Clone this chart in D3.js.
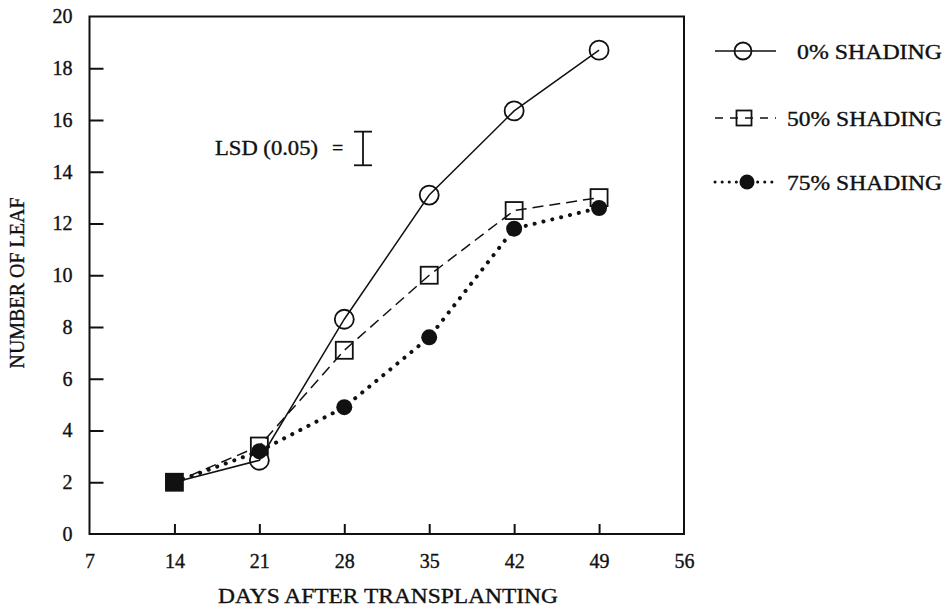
<!DOCTYPE html>
<html>
<head>
<meta charset="utf-8">
<script src="https://cdn.jsdelivr.net/npm/d3@7"></script>
<style>
  body { margin: 0; background: #fff; }
  svg { display: block; }
  text { font-family: "Liberation Serif", "Times New Roman", serif; fill: #111; stroke: #111; stroke-width: 0.35px; }
</style>
</head>
<body>
<svg id="chart" width="948" height="616"></svg>
<script>
// data
var days = [14, 21, 28, 35, 42, 49];
var shade0 = [2.0, 2.85, 8.3, 13.1, 16.35, 18.7];
var shade50 = [2.0, 3.4, 7.1, 10.0, 12.5, 13.0];
var shade75 = [2.0, 3.2, 4.9, 7.6, 11.8, 12.6];
var seriesNames = ["0% SHADING", "50% SHADING", "75% SHADING"];
var xTicks = [7, 14, 21, 28, 35, 42, 49, 56];
var yTicks = [0, 2, 4, 6, 8, 10, 12, 14, 16, 18, 20];
var lsdValue = 1.3;   // LSD (0.05) bar length
var lsdCenter = 14.9;

var svg = d3.select("#chart");
var ink = "#111";

var x = d3.scaleLinear().domain([7, 56]).range([89.5, 684]);
var y = d3.scaleLinear().domain([0, 20]).range([534, 16.5]);

//axes with inward ticks, end ticks dropped
var yAxis = d3.axisLeft(y).tickValues(yTicks).tickSizeInner(-14).tickSizeOuter(0).tickPadding(17);
var xAxis = d3.axisBottom(x).tickValues(xTicks).tickSizeInner(-10).tickSizeOuter(0).tickPadding(20);

var gy = svg.append("g").attr("transform", "translate(" + x.range()[0] + ",0)").call(yAxis);
var gx = svg.append("g").attr("transform", "translate(0," + y.range()[0] + ")").call(xAxis);
[gx, gy].forEach(function(g) {
    g.select(".domain").remove();
    g.selectAll("line").attr("stroke", ink).attr("stroke-width", 2);
    g.selectAll("text").attr("fill", ink).style("font-size", "20px")
        .style("font-family", "'Liberation Serif', 'Times New Roman', serif");
});
gy.selectAll(".tick").filter(d => d === 0 || d === 20).select("line").remove();
gx.selectAll(".tick").filter(d => d === 7 || d === 56).select("line").remove();

//frame
svg.append("rect")
    .attr("x", x.range()[0]).attr("y", y.range()[1])
    .attr("width", x.range()[1] - x.range()[0])
    .attr("height", y.range()[0] - y.range()[1])
    .attr("fill", "none").attr("stroke", ink).attr("stroke-width", 2);

//axis titles
svg.append("text")
    .attr("x", 388).attr("y", 603)
    .attr("text-anchor", "middle")
    .attr("textLength", 340).attr("lengthAdjust", "spacingAndGlyphs")
    .style("font-size", "20px")
    .text("DAYS AFTER TRANSPLANTING");
svg.append("text")
    .attr("transform", "translate(24,283) rotate(-90)")
    .attr("text-anchor", "middle")
    .style("font-size", "20px")
    .text("NUMBER OF LEAF");

//lines
var line = d3.line().x((d, i) => x(days[i])).y(d => y(d));
var styles = [
    { data: shade0, dash: null, width: 1.5, cap: "butt" },
    { data: shade50, dash: "11,6", width: 1.5, cap: "butt" },
    { data: shade75, dash: "0.1,9", width: 4, cap: "round" }
];
styles.forEach(function(s) {
    svg.append("path")
        .attr("d", line(s.data))
        .attr("fill", "none")
        .attr("stroke", ink)
        .attr("stroke-width", s.width)
        .attr("stroke-linecap", s.cap)
        .attr("stroke-dasharray", s.dash);
});

//markers
function drawCircle(g, cx, cy, r) {
    g.append("circle").attr("cx", cx).attr("cy", cy).attr("r", r)
        .attr("fill", "none").attr("stroke", ink).attr("stroke-width", 1.8);
}
function drawSquare(g, cx, cy, s, filled) {
    g.append("rect").attr("x", cx - s / 2).attr("y", cy - s / 2)
        .attr("width", s).attr("height", s)
        .attr("fill", filled ? ink : "none").attr("stroke", ink).attr("stroke-width", 1.8);
}
function drawDot(g, cx, cy, r) {
    g.append("circle").attr("cx", cx).attr("cy", cy).attr("r", r).attr("fill", ink);
}
var marks = svg.append("g");
days.forEach(function(d, i) {
    if(i > 0) drawCircle(marks, x(d), y(shade0[i]), 9.5);
});
days.forEach(function(d, i) {
    drawSquare(marks, x(d), y(shade50[i]), 17, i === 0);
});
days.forEach(function(d, i) {
    if(i > 0) drawDot(marks, x(d), y(shade75[i]), 8);
});

//LSD bar
var lsdX = 363;
svg.append("text")
    .attr("x", 215).attr("y", 155)
    .attr("textLength", 103).attr("lengthAdjust", "spacingAndGlyphs")
    .style("font-size", "20px")
    .text("LSD (0.05)");
svg.append("text")
    .attr("x", 332).attr("y", 155)
    .style("font-size", "20px")
    .text("=");
var lsd = svg.append("g").attr("stroke", ink).attr("stroke-width", 1.8);
lsd.append("line").attr("x1", lsdX).attr("x2", lsdX)
    .attr("y1", y(lsdCenter + lsdValue / 2)).attr("y2", y(lsdCenter - lsdValue / 2));
[lsdCenter + lsdValue / 2, lsdCenter - lsdValue / 2].forEach(function(v) {
    lsd.append("line").attr("x1", lsdX - 9).attr("x2", lsdX + 9).attr("y1", y(v)).attr("y2", y(v));
});

//legend
var legY = [51, 118, 182];
var legText = [{ x: 797, w: 145 }, { x: 787, w: 155 }, { x: 787, w: 155 }];
var leg = svg.append("g");
seriesNames.forEach(function(name, i) {
    var s = styles[i];
    var ly = legY[i];
    leg.append("line")
        .attr("x1", 715).attr("x2", 776).attr("y1", ly).attr("y2", ly)
        .attr("stroke", ink)
        .attr("stroke-width", i === 2 ? 3 : 1.5)
        .attr("stroke-linecap", s.cap)
        .attr("stroke-dasharray", i === 1 ? "8,7" : (i === 2 ? "0.1,7" : null));
    if(i === 0) drawCircle(leg, 743, ly, 8.5);
    if(i === 1) drawSquare(leg, 744, ly, 15, false);
    if(i === 2) drawDot(leg, 747, ly, 7.5);
    leg.append("text")
        .attr("x", legText[i].x).attr("y", ly + 8)
        .attr("textLength", legText[i].w).attr("lengthAdjust", "spacingAndGlyphs")
        .style("font-size", "20px")
        .text(name);
});
</script>
</body>
</html>
